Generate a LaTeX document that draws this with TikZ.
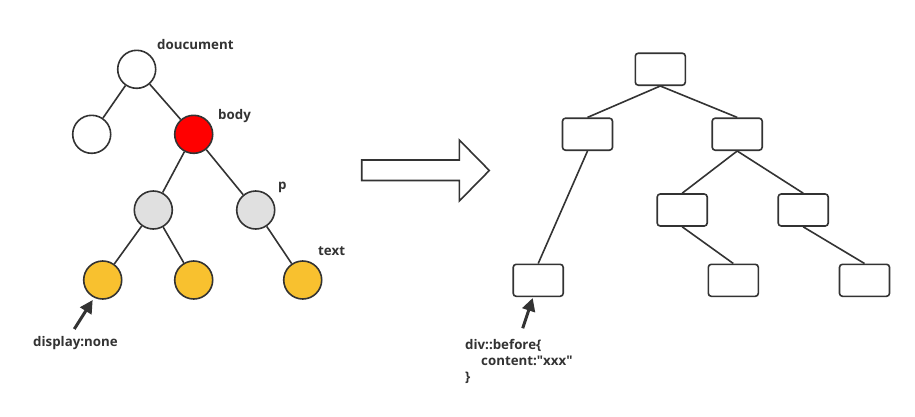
\documentclass[tikz,border=0pt]{standalone}
\usepackage{fontspec}
\setmainfont{Open Sans}
\usetikzlibrary{arrows.meta}
\definecolor{ink}{HTML}{333333}
\definecolor{hot}{HTML}{FF0000}
\definecolor{pale}{HTML}{E0E0E0}
\definecolor{amber}{HTML}{F8C12F}
\begin{document}
\begin{tikzpicture}[x=1pt,y=-1pt,
  dom/.style={circle,draw=ink,line width=1.6pt,minimum size=38pt,inner sep=0pt},
  rbox/.style={rectangle,rounded corners=3pt,draw=ink,line width=1.6pt,minimum width=50pt,minimum height=32pt,inner sep=0pt,fill=white},
  link/.style={draw=ink,line width=1.6pt},
  note/.style={anchor=base west,inner sep=0pt,text=ink,font=\fontsize{13.3}{16}\selectfont\bfseries},
  pointer/.style={draw=ink,line width=3pt,-{Triangle[length=13pt,width=13pt]}}]
\useasboundingbox (0,0) rectangle (915,416);
\fill[white] (0,0) rectangle (915,416);

% DOM tree
\node[dom,fill=white] (doc) at (136.7,69.3) {};
\node[dom,fill=white] (head) at (91.7,134.3) {};
\node[dom,fill=hot] (body) at (193.7,134.3) {};
\node[dom,fill=pale] (div) at (153.3,210) {};
\node[dom,fill=pale] (p) at (255.7,210) {};
\node[dom,fill=amber] (t1) at (102.7,280) {};
\node[dom,fill=amber] (t2) at (193.7,280) {};
\node[dom,fill=amber] (t3) at (302.7,280) {};
\draw[link] (doc) -- (head);
\draw[link] (doc) -- (body);
\draw[link] (body) -- (div);
\draw[link] (body) -- (p);
\draw[link] (div) -- (t1);
\draw[link] (div) -- (t2);
\draw[link] (p) -- (t3);

\node[note] (ldoc) at (157,49.7) {doucument};
\node[note] (lbody) at (218,119) {body};
\node[note] (lp) at (278,189) {p};
\node[note] (ltext) at (318,255) {text};
\node[note] (lnone) at (33,346.5) {display:none};
\coordinate (a1) at (74.3,329);
\coordinate (a1tip) at (92.7,300);
\draw[pointer] (a1) -- (a1tip);

% transformation arrow
\draw[draw=ink,line width=1.6pt,fill=white]
  (361.7,160) -- (459.3,160) -- (459.3,140) -- (489.3,170.5)
  -- (459.3,201) -- (459.3,180.5) -- (361.7,180.5) -- cycle;

% render tree
\node[rbox] (r0) at (660.3,69.2) {};
\node[rbox] (r1) at (587.5,134.2) {};
\node[rbox] (r2) at (737.2,134.2) {};
\node[rbox] (r3) at (682.2,210) {};
\node[rbox] (r4) at (803.2,210) {};
\node[rbox] (r5) at (538.2,280.3) {};
\node[rbox] (r6) at (733.3,280.3) {};
\node[rbox] (r7) at (864.5,280.3) {};
\draw[link] (r0.south) -- (r1.north);
\draw[link] (r0.south) -- (r2.north);
\draw[link] (r1.south) -- (r5.north);
\draw[link] (r2.south) -- (r3.north);
\draw[link] (r2.south) -- (r4.north);
\draw[link] (r3.south) -- (r6.north);
\draw[link] (r4.south) -- (r7.north);

\coordinate (a2) at (522.7,328.3);
\coordinate (a2tip) at (532.7,298);
\draw[pointer] (a2) -- (a2tip);
\node[note] (css1) at (465,349) {div::before\{};
\node[note] (css2) at (481,365) {content:\textquotedbl xxx\textquotedbl};
\node[note] (css3) at (465,381) {\}};
\end{tikzpicture}
\end{document}
